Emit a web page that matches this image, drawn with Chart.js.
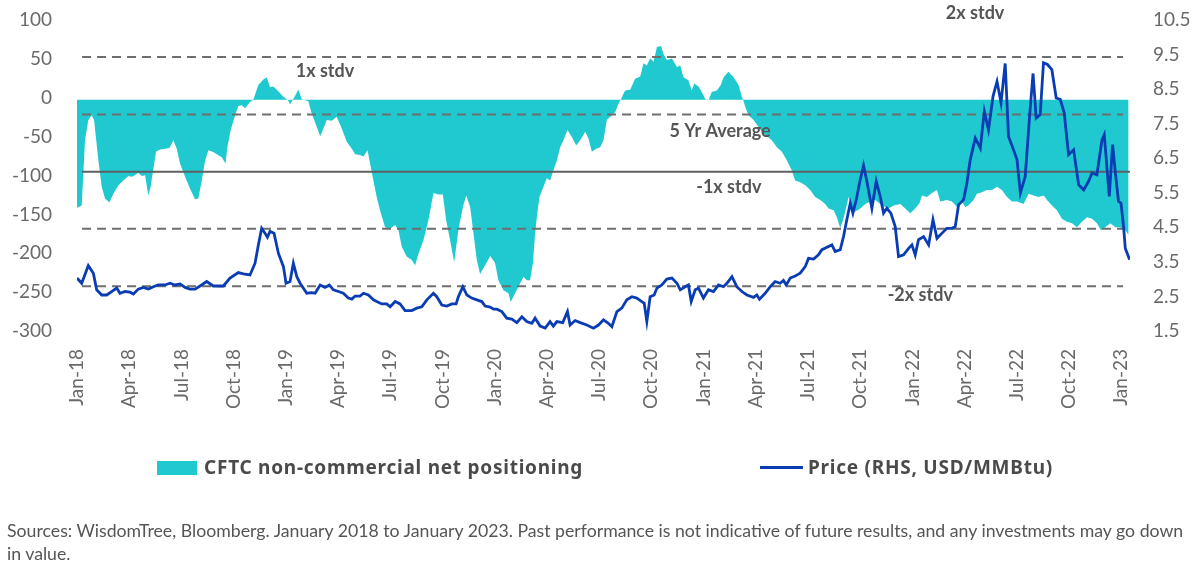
<!DOCTYPE html>
<html>
<head>
<meta charset="utf-8">
<script src="https://cdn.jsdelivr.net/npm/chart.js@4/dist/chart.umd.min.js"></script>
<style>
  body { margin: 0; background: #fff; font-family: Lato, sans-serif; }
  #wrap { position: relative; width: 1200px; height: 576px; }
  #legend { position: absolute; left: 0; top: 455px; width: 1200px; height: 24px; color: #4a4a4a; font-family: 'Noto Sans', sans-serif; font-weight: bold; font-size: 19px; letter-spacing: 0.75px; }
  .lg-item { position: absolute; top: 0; white-space: nowrap; line-height: 24px; }
  .lg-box { position: absolute; width: 40px; height: 14px; background: #1fc9cf; top: 6px; }
  .lg-line { position: absolute; width: 43px; height: 3px; background: #0a3db3; top: 11px; }
  #source { position: absolute; left: 7px; top: 519px; font-size: 17.7px; line-height: 23px; color: #555; white-space: nowrap; }
</style>
</head>
<body>
<div id="wrap">
  <canvas id="chart" width="1200" height="576"></canvas>
  <div id="legend">
    <div class="lg-box" style="left:157px"></div>
    <div class="lg-item" style="left:204px">CFTC non-commercial net positioning</div>
    <div class="lg-line" style="left:760px"></div>
    <div class="lg-item" style="left:808px">Price (RHS, USD/MMBtu)</div>
  </div>
  <div id="source">Sources: WisdomTree, Bloomberg. January 2018 to January 2023. Past performance is not indicative of future results, and any investments may go down<br>in value.</div>
</div>
<script>
// x values are months since Jan-2018
const tickLabels = ['Jan-18', 'Apr-18', 'Jul-18', 'Oct-18', 'Jan-19', 'Apr-19', 'Jul-19', 'Oct-19',
  'Jan-20', 'Apr-20', 'Jul-20', 'Oct-20', 'Jan-21', 'Apr-21', 'Jul-21', 'Oct-21',
  'Jan-22', 'Apr-22', 'Jul-22', 'Oct-22', 'Jan-23'];
const leftTicks = [-300, -250, -200, -150, -100, -50, 0, 50, 100];
const rightTicks = [1.5, 2.5, 3.5, 4.5, 5.5, 6.5, 7.5, 8.5, 9.5, 10.5];

const posMonths = [0, 0.27, 0.46, 0.65, 0.84, 0.98, 1.23, 1.42, 1.61, 1.86, 2.09, 2.38, 2.66, 2.95, 3.14, 3.33, 3.52, 3.72, 3.91, 4.10,
  4.23, 4.54, 4.77, 5.06, 5.31, 5.54, 5.73, 5.92, 6.21, 6.49, 6.78, 6.97, 7.17, 7.36, 7.55, 7.80, 8.03, 8.32, 8.53, 8.64,
  8.83, 9.11, 9.27, 9.47, 9.66, 9.94, 10.13, 10.42, 10.71, 10.90, 11.09, 11.28, 11.48, 11.86, 12.14, 12.24, 12.43, 12.72, 12.91, 13.29,
  13.49, 13.78, 13.97, 14.16, 14.35, 14.64, 14.92, 15.21, 15.50, 15.79, 15.98, 16.26, 16.46, 16.69, 16.84, 17.03, 17.22, 17.41, 17.70, 17.99,
  18.28, 18.47, 18.66, 18.95, 19.23, 19.43, 19.62, 19.90, 20.19, 20.48, 20.77, 21.02, 21.21, 21.44, 21.67, 21.91, 22.17, 22.36, 22.59, 22.78,
  22.97, 23.16, 23.45, 23.74, 24.02, 24.21, 24.50, 24.79, 24.92, 25.17, 25.46, 25.65, 25.85, 26.03, 26.19, 26.32, 26.42, 26.57, 26.80, 26.99,
  27.18, 27.37, 27.57, 27.76, 27.95, 28.18, 28.43, 28.68, 28.91, 29.20, 29.39, 29.58, 29.83, 30.06, 30.25, 30.44, 30.73, 30.92, 31.11, 31.26,
  31.49, 31.78, 32.07, 32.36, 32.55, 32.74, 32.93, 33.13, 33.32, 33.55, 33.70, 33.89, 34.18, 34.47, 34.66, 34.84, 35.13, 35.32, 35.46, 35.71,
  35.99, 36.09, 36.28, 36.47, 36.76, 36.99, 37.15, 37.43, 37.72, 38.01, 38.20, 38.30, 38.39, 38.58, 38.87, 39.16, 39.35, 39.64, 39.92, 40.21,
  40.50, 40.79, 41.07, 41.26, 41.55, 41.84, 42.13, 42.41, 42.70, 42.99, 43.18, 43.47, 43.66, 43.85, 44.01, 44.20, 44.33, 44.52, 44.71, 45.00,
  45.29, 45.57, 45.86, 46.15, 46.44, 46.63, 46.92, 47.30, 47.59, 47.87, 48.16, 48.40, 48.55, 48.83, 49.12, 49.41, 49.60, 49.98, 50.27, 50.56,
  50.84, 51.03, 51.22, 51.51, 51.70, 51.99, 52.28, 52.57, 52.86, 53.14, 53.43, 53.72, 54.01, 54.39, 54.67, 54.96, 55.25, 55.54, 55.73, 56.02,
  56.30, 56.59, 56.88, 57.17, 57.45, 57.74, 58.03, 58.32, 58.60, 58.83, 59.08, 59.37, 59.66, 59.94, 60.23, 60.42];
const posValues = [-139, -136, -52, -26, -20, -26, -78, -112, -127, -132, -121, -110, -104, -98, -99, -97, -94, -98, -97, -123,
  -112, -67, -64, -63, -62, -52, -63, -82, -99, -114, -128, -127, -104, -78, -65, -67, -70, -74, -82, -61,
  -39, -18, -8, -7, -11, -3, 0, 19, 26, 29, 16, 17, 13, 4, -1, -6, 1, 13, 1, -2,
  -18, -35, -47, -37, -26, -27, -22, -37, -54, -63, -70, -71, -73, -65, -82, -104, -125, -142, -164, -166,
  -161, -168, -189, -202, -206, -213, -198, -181, -155, -120, -122, -122, -155, -181, -209, -168, -138, -123, -138, -172,
  -206, -224, -213, -201, -210, -232, -245, -249, -260, -249, -236, -228, -232, -232, -211, -172, -151, -125, -112, -101,
  -104, -91, -78, -61, -52, -39, -48, -59, -52, -41, -50, -67, -63, -61, -52, -26, -20, -16, -5, 1,
  12, 13, 27, 30, 47, 44, 53, 49, 68, 69, 59, 51, 53, 42, 44, 29, 25, 12, 21, 17,
  6, 1, -1, 10, 12, 19, 29, 36, 29, 19, 4, -2, -9, -20, -26, -35, -41, -47, -52, -61,
  -67, -78, -91, -104, -106, -110, -116, -125, -129, -134, -140, -142, -151, -165, -155, -138, -125, -136, -144, -140,
  -134, -131, -129, -134, -138, -140, -136, -134, -140, -146, -140, -133, -123, -125, -120, -116, -131, -129, -131, -138,
  -131, -138, -136, -129, -121, -119, -116, -116, -112, -116, -125, -131, -131, -134, -121, -123, -125, -123, -129, -136,
  -142, -153, -157, -159, -164, -157, -151, -153, -159, -168, -164, -159, -164, -164, -168, -174];

const priceMonths = [0, 0.27, 0.65, 0.94, 1.13, 1.42, 1.71, 1.99, 2.28, 2.47, 2.76, 3.05, 3.24, 3.52, 3.81, 4.10, 4.39, 4.67, 5.06, 5.34,
  5.63, 5.92, 6.21, 6.49, 6.78, 7.07, 7.45, 7.83, 8.41, 8.79, 9.27, 9.56, 9.94, 10.23, 10.42, 10.61, 10.80, 10.94, 11.09, 11.32,
  11.57, 11.86, 12.01, 12.24, 12.43, 12.63, 12.82, 13.20, 13.49, 13.68, 13.97, 14.25, 14.50, 14.73, 15.02, 15.30, 15.59, 15.79, 15.98, 16.26,
  16.46, 16.74, 17.03, 17.22, 17.51, 17.80, 17.99, 18.28, 18.56, 18.85, 19.23, 19.52, 19.81, 20.10, 20.48, 20.67, 20.96, 21.25, 21.53, 21.78,
  21.91, 22.17, 22.40, 22.68, 22.97, 23.26, 23.45, 23.74, 23.93, 24.12, 24.41, 24.69, 24.98, 25.27, 25.56, 25.84, 26.13, 26.32, 26.61, 26.90,
  27.18, 27.37, 27.57, 27.91, 28.18, 28.33, 28.62, 28.91, 29.29, 29.67, 29.96, 30.25, 30.53, 30.73, 31.02, 31.30, 31.59, 31.88, 32.16, 32.45,
  32.59, 32.74, 32.93, 33.16, 33.32, 33.60, 33.89, 34.18, 34.47, 34.66, 34.94, 35.13, 35.29, 35.52, 35.71, 35.99, 36.28, 36.57, 36.86, 37.14,
  37.34, 37.63, 37.91, 38.20, 38.49, 38.87, 39.06, 39.21, 39.54, 39.83, 40.11, 40.40, 40.59, 40.75, 40.98, 41.26, 41.55, 41.84, 42.03, 42.32,
  42.60, 42.80, 43.09, 43.37, 43.56, 43.85, 44.04, 44.23, 44.43, 44.58, 44.77, 44.96, 45.19, 45.38, 45.67, 45.92, 46.15, 46.34, 46.53, 46.76,
  47.01, 47.20, 47.49, 47.78, 47.97, 48.16, 48.35, 48.64, 48.93, 49.18, 49.41, 49.70, 49.98, 50.27, 50.46, 50.65, 50.94, 51.13, 51.32, 51.61,
  51.90, 52.13, 52.37, 52.63, 52.86, 52.95, 53.09, 53.33, 53.52, 53.81, 54.01, 54.20, 54.48, 54.73, 54.93, 55.11, 55.34, 55.53, 55.76, 56.01,
  56.26, 56.49, 56.72, 56.97, 57.26, 57.55, 57.84, 58.12, 58.32, 58.60, 58.89, 59.02, 59.31, 59.50, 59.66, 59.84, 59.98, 60.13, 60.23, 60.48];
const priceValues = [3.09, 2.94, 3.45, 3.23, 2.75, 2.60, 2.60, 2.70, 2.80, 2.65, 2.70, 2.68, 2.63, 2.77, 2.82, 2.77, 2.84, 2.89, 2.89, 2.94,
  2.89, 2.92, 2.82, 2.77, 2.77, 2.86, 2.99, 2.86, 2.86, 3.09, 3.25, 3.21, 3.18, 3.52, 4.05, 4.53, 4.39, 4.27, 4.44, 4.39,
  3.81, 3.42, 2.94, 2.99, 3.52, 3.13, 2.94, 2.65, 2.67, 2.65, 2.89, 2.82, 2.89, 2.75, 2.70, 2.65, 2.51, 2.48, 2.57, 2.57,
  2.65, 2.60, 2.46, 2.41, 2.34, 2.34, 2.26, 2.41, 2.34, 2.15, 2.15, 2.22, 2.26, 2.46, 2.65, 2.55, 2.31, 2.28, 2.34, 2.34,
  2.55, 2.84, 2.60, 2.51, 2.46, 2.41, 2.28, 2.25, 2.19, 2.19, 2.12, 1.93, 1.90, 1.80, 1.97, 1.83, 1.78, 1.93, 1.70, 1.64,
  1.83, 1.70, 1.83, 1.80, 2.12, 1.73, 1.86, 1.80, 1.73, 1.64, 1.73, 1.88, 1.78, 1.68, 2.12, 2.22, 2.46, 2.55, 2.51, 2.41,
  2.36, 1.83, 2.55, 2.60, 2.80, 2.89, 3.06, 3.09, 2.94, 2.75, 2.84, 2.89, 2.41, 2.75, 2.80, 2.51, 2.75, 2.70, 2.89, 2.84,
  2.94, 3.13, 2.84, 2.70, 2.60, 2.53, 2.60, 2.48, 2.65, 2.84, 2.99, 2.94, 3.02, 2.89, 3.09, 3.15, 3.23, 3.42, 3.66, 3.64,
  3.76, 3.91, 3.98, 4.05, 3.86, 3.91, 4.29, 4.78, 5.26, 4.97, 5.35, 5.84, 6.35, 5.89, 5.11, 5.89, 5.45, 4.97, 5.11, 4.97,
  4.58, 3.71, 3.76, 3.95, 4.05, 3.76, 4.20, 4.29, 4.05, 4.78, 4.24, 4.39, 4.53, 4.53, 4.58, 5.21, 5.36, 5.84, 6.51, 7.14,
  6.85, 7.91, 7.38, 8.35, 8.78, 8.54, 8.16, 9.30, 7.19, 6.80, 6.51, 5.55, 6.03, 7.77, 9.01, 7.72, 7.82, 9.32, 9.27, 9.12,
  8.30, 8.26, 7.87, 6.66, 6.80, 5.79, 5.64, 5.89, 6.13, 6.08, 7.09, 7.24, 5.45, 6.95, 6.13, 5.31, 5.26, 4.58, 3.95, 3.62];

// 5 year average and +/- 1 and 2 standard deviation levels (LHS)
const avgLevel = -92.5;
const stdvLevels = [55, -19, -166, -240];
const lineStart = 0.29, lineEnd = 60.1, xMax = 60.5;

const noteTexts = ['2x stdv', '1x stdv', '5 Yr Average', '-1x stdv', '-2x stdv'];
const noteX = [51.6, 14.25, 36.95, 37.45, 48.45];
const noteY = [111, 36.7, -40.5, -112.2, -251.4];

const tickFont = { family: 'Lato', size: 19 };
const tickColor = '#6a6a6a';

const stdvSets = stdvLevels.map(v => ({
  type: 'line',
  data: [{ x: lineStart, y: v }, { x: lineEnd, y: v }],
  borderColor: '#6e6e6e',
  borderWidth: 2,
  borderDash: [9, 6],
  pointRadius: 0,
  yAxisID: 'y',
  order: 1
}));

const notesPlugin = {
  id: 'notes',
  afterDatasetsDraw(chart) {
    const { ctx, scales } = chart;
    ctx.save();
    ctx.font = 'bold 18px Lato';
    ctx.fillStyle = '#555';
    ctx.textAlign = 'center';
    ctx.textBaseline = 'middle';
    noteTexts.forEach((t, i) => {
      ctx.fillText(t, scales.x.getPixelForValue(noteX[i]), scales.y.getPixelForValue(noteY[i]));
    });
    ctx.restore();
  }
};

// keep the plot box fixed: no extra room for half-height tick labels
const fixVertical = width => s => { s.width = width; s.paddingTop = 0; s.paddingBottom = 0; };

new Chart(document.getElementById('chart'), {
  type: 'line',
  data: {
    datasets: [
      {
        label: 'Price (RHS, USD/MMBtu)',
        data: priceMonths.map((m, i) => ({ x: m, y: priceValues[i] })),
        borderColor: '#0a3db3',
        borderWidth: 2.8,
        pointRadius: 0,
        tension: 0,
        yAxisID: 'y1',
        order: 0
      },
      {
        type: 'line',
        data: [{ x: lineStart, y: avgLevel }, { x: xMax, y: avgLevel }],
        borderColor: '#5d5f63',
        borderWidth: 2,
        pointRadius: 0,
        yAxisID: 'y',
        order: 1
      },
      ...stdvSets,
      {
        label: 'CFTC non-commercial net positioning',
        data: posMonths.map((m, i) => ({ x: m, y: posValues[i] })),
        backgroundColor: '#1fc9cf',
        borderWidth: 0,
        pointRadius: 0,
        tension: 0,
        fill: 'origin',
        yAxisID: 'y',
        order: 2
      }
    ]
  },
  options: {
    responsive: false,
    animation: false,
    layout: { padding: { top: 22, left: 0, right: 0, bottom: 0 } },
    plugins: { legend: { display: false }, tooltip: { enabled: false } },
    scales: {
      x: {
        type: 'linear',
        min: 0,
        max: xMax,
        grid: { display: false, drawTicks: false },
        border: { display: false },
        afterBuildTicks: s => { s.ticks = tickLabels.map((_, i) => ({ value: i * 3 })); },
        afterFit: s => { s.height = 576 - 333; },
        ticks: {
          autoSkip: false,
          minRotation: 90,
          maxRotation: 90,
          padding: 16,
          font: tickFont,
          color: tickColor,
          callback: v => tickLabels[Math.round(v / 3)]
        }
      },
      y: {
        position: 'left',
        min: -300,
        max: 100,
        grid: { display: false, drawTicks: false },
        border: { display: false },
        afterBuildTicks: s => { s.ticks = leftTicks.map(v => ({ value: v })); },
        afterFit: fixVertical(77),
        ticks: { padding: 25, font: tickFont, color: tickColor, labelOffset: -2 }
      },
      y1: {
        position: 'right',
        min: 1.5,
        max: 10.5,
        grid: { display: false, drawTicks: false },
        border: { display: false },
        afterBuildTicks: s => { s.ticks = rightTicks.map(v => ({ value: v })); },
        afterFit: fixVertical(70),
        ticks: { padding: 23, font: tickFont, color: tickColor, labelOffset: -2, callback: v => v.toFixed(1) }
      }
    }
  },
  plugins: [notesPlugin]
});
</script>
</body>
</html>
